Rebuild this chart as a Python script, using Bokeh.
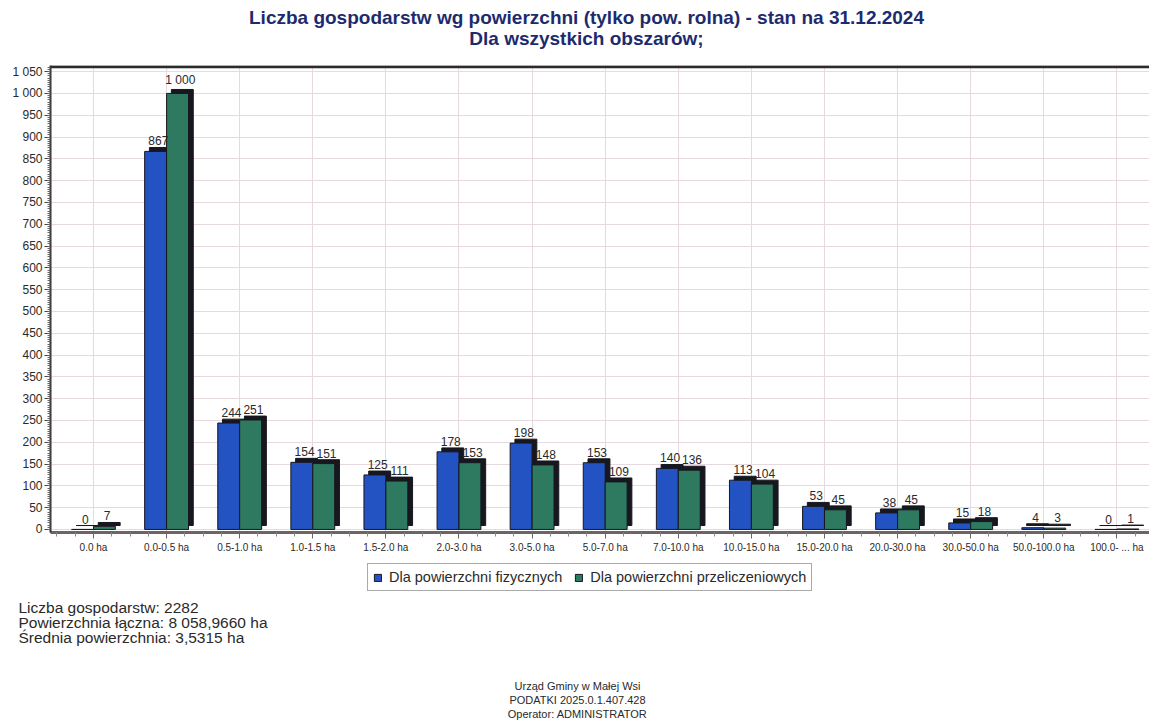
import numpy as np
from bokeh.plotting import figure
from bokeh.layouts import column
from bokeh.models import (Range1d, FixedTicker, Label, Legend, LegendItem, Span,
                          ColumnDataSource)
from bokeh.embed import file_html
from bokeh.resources import INLINE
from bokeh.core.properties import value

# ---------------- data ----------------
categories = ["0.0 ha", "0.0-0.5 ha", "0.5-1.0 ha", "1.0-1.5 ha", "1.5-2.0 ha",
              "2.0-3.0 ha", "3.0-5.0 ha", "5.0-7.0 ha", "7.0-10.0 ha", "10.0-15.0 ha",
              "15.0-20.0 ha", "20.0-30.0 ha", "30.0-50.0 ha", "50.0-100.0 ha", "100.0- ... ha"]
fizyczne = [0, 867, 244, 154, 125, 178, 198, 153, 140, 113, 53, 38, 15, 4, 0]
przeliczeniowe = [7, 1000, 251, 151, 111, 153, 148, 109, 136, 104, 45, 45, 18, 3, 1]
series_names = ["Dla powierzchni fizycznych", "Dla powierzchni przeliczeniowych"]
y_ticks = list(range(0, 1051, 50))
title_lines = ["Liczba gospodarstw wg powierzchni (tylko pow. rolna) - stan na 31.12.2024",
               "Dla wszystkich obszarów;"]
stats_lines = ["Liczba gospodarstw: 2282",
               "Powierzchnia łączna: 8 058,9660 ha",
               "Średnia powierzchnia: 3,5315 ha"]
footer_lines = ["Urząd Gminy w Małej Wsi",
                "PODATKI 2025.0.1.407.428",
                "Operator: ADMINISTRATOR"]

# ---------------- style ----------------
W = 1149
H_TOP, H_MAIN, H_BOT = 61, 499, 162
BLUE = "#2352c2"
GREEN = "#2e7a60"
DARK = "#17171f"
GRID = "#e6d9df"
TITLE_C = "#1d2b6e"
TXT = "#2a2a2a"
FONT = "Liberation Sans"
BW = 0.30      # bar width (category units)
DX = 0.065     # 3D depth in x (category units)
DY = 9         # 3D depth in y (value units)
Y_START, Y_END = -7, 1064

def fmt(v):
    return f"{v:,}".replace(",", " ")

def blank(h):
    f = figure(width=W, height=h, output_backend="svg", toolbar_location=None,
               x_range=Range1d(0, W), y_range=Range1d(0, h),
               x_axis_type=None, y_axis_type=None, min_border=0)
    f.frame_align = False
    f.outline_line_color = None
    f.grid.visible = False
    f.background_fill_color = "white"
    f.border_fill_color = "white"
    return f

def lab(f, h, txt, px, py, size, style="normal", color=TXT, align="left"):
    f.add_layout(Label(x=px, y=h - py, text=txt, text_font=FONT, text_font_size=size,
                       text_font_style=style, text_color=color, text_align=align,
                       text_baseline="middle"))

# ---------------- title ----------------
top = blank(H_TOP)
for i, t in enumerate(title_lines):
    lab(top, H_TOP, t, 586, 17 + 21 * i, "19px", style="bold", color=TITLE_C, align="center")

# ---------------- main chart ----------------
n = len(categories)
xc = np.arange(n, dtype=float)
src = ColumnDataSource(dict(
    xb=xc - BW / 2, xg=xc + BW / 2,
    xbs=xc - BW / 2 + DX, xgs=xc + BW / 2 + DX,
    fiz=fizyczne, prz=przeliczeniowe,
    fizs=[v + DY for v in fizyczne], przs=[v + DY for v in przeliczeniowe],
    fizl=[fmt(v) for v in fizyczne], przl=[fmt(v) for v in przeliczeniowe],
))

p = figure(width=W, height=H_MAIN, output_backend="svg", toolbar_location=None,
           x_range=Range1d(-0.588, 14.446), y_range=Range1d(Y_START, Y_END),
           min_border_left=50, min_border_top=4, min_border_bottom=28,
           min_border_right=0)
p.frame_align = False
p.outline_line_color = None
p.background_fill_color = "white"
p.border_fill_color = "white"

p.yaxis.ticker = FixedTicker(ticks=y_ticks, minor_ticks=list(range(0, 1065, 5)))
p.yaxis.major_label_overrides = {v: fmt(v) for v in y_ticks}
p.yaxis.axis_line_color = "#333333"
p.yaxis.axis_line_width = 2
p.yaxis.major_tick_out = 6
p.yaxis.major_tick_in = 0
p.yaxis.minor_tick_out = 3
p.yaxis.minor_tick_in = 0
p.yaxis.major_tick_line_color = "#444444"
p.yaxis.minor_tick_line_color = "#666666"
p.yaxis.major_label_text_font = FONT
p.yaxis.major_label_text_font_size = "12px"
p.yaxis.major_label_text_color = TXT
p.yaxis.major_label_standoff = 2

minor_x = sorted(set(np.round(np.arange(-0.5, n, 0.25), 3).tolist()) - set(xc.tolist()))
p.xaxis.ticker = FixedTicker(ticks=xc.tolist(), minor_ticks=minor_x)
p.xaxis.major_label_overrides = {int(i): c for i, c in enumerate(categories)}
p.xaxis.axis_line_color = "#6f6464"
p.xaxis.axis_line_width = 3
p.xaxis.major_tick_out = 6
p.xaxis.major_tick_in = 0
p.xaxis.minor_tick_out = 4
p.xaxis.minor_tick_in = 0
p.xaxis.major_tick_line_color = "#666666"
p.xaxis.minor_tick_line_color = "#888888"
p.xaxis.major_label_text_font = FONT
p.xaxis.major_label_text_font_size = "10px"
p.xaxis.major_label_text_color = TXT
p.xaxis.major_label_standoff = 3

p.ygrid.ticker = FixedTicker(ticks=y_ticks)
p.ygrid.grid_line_color = GRID
p.xgrid.grid_line_color = GRID

p.add_layout(Span(location=Y_END - 3, dimension="width", line_color="#2b2b2b", line_width=3))

# bars with a simple 3D look
p.vbar(x="xbs", width=BW, bottom=DY, top="fizs", source=src, fill_color=DARK, line_color=DARK)
rb = p.vbar(x="xb", width=BW, bottom=0, top="fiz", source=src, fill_color=BLUE,
            line_color=DARK, line_width=1)
p.vbar(x="xgs", width=BW, bottom=DY, top="przs", source=src, fill_color=DARK, line_color=DARK)
rg = p.vbar(x="xg", width=BW, bottom=0, top="prz", source=src, fill_color=GREEN,
            line_color=DARK, line_width=1)

for xs, ys, ts in (("xbs", "fizs", "fizl"), ("xgs", "przs", "przl")):
    p.text(x=xs, y=ys, text=ts, source=src, text_align="center", text_baseline="bottom",
           y_offset=-2, x_offset=-2, text_font=value(FONT),
           text_font_size="12px", text_color=TXT)

# ---------------- bottom: legend + texts ----------------
bot = blank(H_BOT)
off = H_TOP + H_MAIN      # page y of the bottom figure's top edge
# legend proxies (hidden renderers that only carry the swatch style)
lb = bot.vbar(x=[0], top=[0], width=0, fill_color=BLUE, line_color=DARK, visible=False)
lg = bot.vbar(x=[0], top=[0], width=0, fill_color=GREEN, line_color=DARK, visible=False)
legend = Legend(items=[LegendItem(label=series_names[0], renderers=[lb]),
                       LegendItem(label=series_names[1], renderers=[lg])],
                orientation="horizontal", location=(367, H_BOT - (591 - off)))
legend.label_text_font = FONT
legend.label_text_font_size = "14.5px"
legend.label_text_color = TXT
legend.glyph_width = 9
legend.glyph_height = 9
legend.spacing = 12
legend.padding = 5
legend.margin = 0
legend.label_standoff = 7
legend.border_line_color = "#555555"
legend.border_line_width = 1
legend.background_fill_alpha = 1
legend.inactive_fill_alpha = 0
bot.add_layout(legend, "center")

for i, t in enumerate(stats_lines):
    lab(bot, H_BOT, t, 18, 607 + 15 * i - off, "15.5px")
for i, t in enumerate(footer_lines):
    lab(bot, H_BOT, t, 577, 685 + 14 * i - off, "11px", align="center")

layout = column(top, p, bot, spacing=0)
open("out.html", "w").write(file_html(layout, INLINE))
